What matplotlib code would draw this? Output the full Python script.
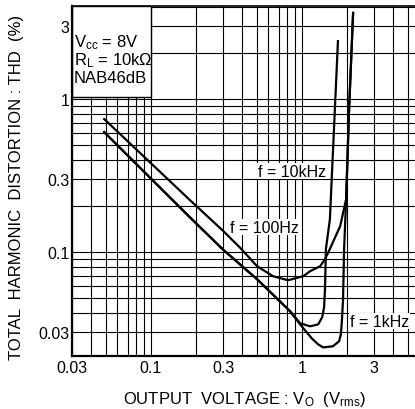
import matplotlib.pyplot as plt
from matplotlib.patches import Rectangle
from matplotlib.ticker import FixedLocator, FixedFormatter, LogLocator, NullFormatter

plt.rcParams['font.family'] = 'Liberation Sans'
plt.rcParams['mathtext.fontset'] = 'custom'
plt.rcParams['mathtext.rm'] = 'Liberation Sans'
plt.rcParams['mathtext.default'] = 'regular'

# THD vs output voltage
v_100 = [0.049, 0.181, 0.30, 0.389, 0.504, 0.643, 0.808, 1.02, 1.13, 1.32, 1.42, 1.53, 1.79, 1.96, 2.05, 2.18]
thd_100 = [0.740, 0.219, 0.138, 0.107, 0.081, 0.0697, 0.0656, 0.0697, 0.0751, 0.081, 0.090, 0.105, 0.148, 0.222, 0.86, 3.65]

v_10k = [0.049, 0.181, 0.30, 0.504, 0.833, 0.971, 1.13, 1.28, 1.36, 1.40, 1.42, 1.44, 1.53, 1.73]
thd_10k = [0.608, 0.169, 0.104, 0.0666, 0.0412, 0.0344, 0.0328, 0.0338, 0.0376, 0.0437, 0.0573, 0.105, 0.164, 2.39]

v_1k = [0.049, 0.181, 0.30, 0.504, 0.833, 0.971, 1.16, 1.28, 1.38, 1.60, 1.76, 1.81, 1.84, 1.87, 1.90, 1.96, 2.05, 2.18]
thd_1k = [0.608, 0.169, 0.104, 0.0666, 0.0412, 0.0338, 0.0274, 0.0250, 0.0239, 0.0243, 0.0262, 0.0291, 0.0365, 0.0493, 0.105, 0.222, 0.86, 3.65]

tick_vals = [0.03, 0.1, 0.3, 1, 3]
tick_labels = ['0.03', '0.1', '0.3', '1', '3']

fig = plt.figure(figsize=(4.15, 4.10), dpi=100)
ax = fig.add_axes([72 / 415, 53 / 410, 343 / 415, 350 / 410])
ax.set_xscale('log')
ax.set_yscale('log')
ax.set_xlim(0.03, 5.6)
ax.set_ylim(0.021, 4.05)

for v, t in [(v_100, thd_100), (v_10k, thd_10k), (v_1k, thd_1k)]:
    ax.plot(v, t, color='black', lw=1.6, solid_joinstyle='round', zorder=4)

# grid
ax.set_axisbelow(True)
for axis in (ax.xaxis, ax.yaxis):
    axis.set_major_locator(FixedLocator(tick_vals))
    axis.set_major_formatter(FixedFormatter(tick_labels))
    axis.set_minor_locator(LogLocator(base=10, subs=range(1, 10), numticks=20))
    axis.set_minor_formatter(NullFormatter())
ax.grid(True, which='both', color='black', lw=0.8)
ax.tick_params(which='both', length=0, labelsize=11.5, colors='black')
ax.tick_params(axis='x', pad=3)
ax.tick_params(axis='y', pad=2)

ax.spines['right'].set_visible(False)
ax.spines['left'].set_linewidth(1.6)
ax.spines['bottom'].set_linewidth(1.6)
ax.spines['top'].set_linewidth(1.2)

# conditions box
ax.add_patch(Rectangle((0.03, 1.03), 0.07, 4.05 - 1.03, facecolor='white',
                       edgecolor='black', lw=1, zorder=2.5))
ax.text(0.0309, 2.22, r'V$_{cc}$ = 8V', fontsize=12, va='baseline', zorder=3)
ax.text(0.0309, 1.69, r'R$_{L}$ = 10k$\Omega$', fontsize=12, va='baseline', zorder=3)
ax.text(0.0309, 1.29, 'NAB46dB', fontsize=12, va='baseline', zorder=3)

box = dict(facecolor='white', edgecolor='none', pad=0.5)
ax.text(0.512, 0.338, 'f = 10kHz', fontsize=11.5, va='center', bbox=box, zorder=3)
ax.text(0.334, 0.146, 'f = 100Hz', fontsize=11.5, va='center', bbox=box, zorder=3)
ax.text(2.08, 0.0354, 'f = 1kHz', fontsize=11.5, va='center', bbox=box, zorder=3)

fig.text(245 / 415, 1 - 400 / 410, r'OUTPUT  VOLTAGE : V$_{O}$  (V$_{rms}$)',
         fontsize=12, ha='center', va='center')
fig.text(17 / 415, 1 - 187 / 410, 'TOTAL  HARMONIC  DISTORTION : THD  (%)',
         fontsize=12, ha='center', va='center', rotation=90)

fig.savefig('out.png', dpi=100)
